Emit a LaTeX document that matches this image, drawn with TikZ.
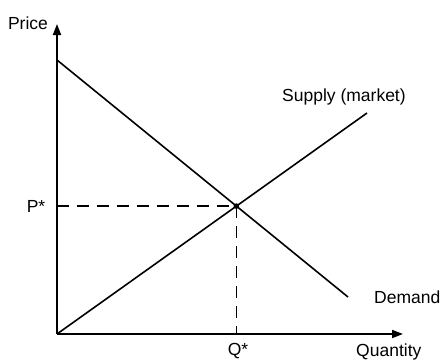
\documentclass[tikz,border=0pt]{standalone}
\usepackage{fontspec}
\setmainfont{Liberation Sans}
\usetikzlibrary{arrows.meta}
\begin{document}
\begin{tikzpicture}[x=1pt,y=1pt,
  axisline/.style={line width=1.9pt,-{Triangle[length=11pt,width=8pt]}},
  curve/.style={line width=1.6pt},
  guide/.style={line width=1.3pt,dash pattern=on 12pt off 8pt},
  lbl/.style={inner sep=0pt,font=\fontsize{17.5}{20}\selectfont}]
\useasboundingbox (0,0) rectangle (440,360);
\coordinate (O) at (57,26);
\coordinate (Ytop) at (57,336);
\coordinate (Xend) at (403,26);
\coordinate (D1) at (57,300);
\coordinate (D2) at (348,63);
\coordinate (S1) at (57,26);
\coordinate (S2) at (367,247);
\coordinate (E) at (intersection of D1--D2 and S1--S2);
\coordinate (Pax) at (O |- E);
\coordinate (Qax) at (E |- O);
\draw[axisline] (O) -- (Ytop);
\draw[axisline] (O) -- (Xend);
\draw[curve] (D1) -- (D2);
\draw[curve] (S1) -- (S2);
\draw[guide] (Pax) -- (E);
\draw[guide] (E) -- (Qax);
\fill (E) circle (2.8pt);
\node[lbl] (price) at (28,337) {Price};
\node[lbl] (pstar) at (36,154) {P*};
\node[lbl] (qstar) at (238,9) {Q*};
\node[lbl,anchor=west] (qty) at (356,8) {Quantity};
\node[lbl,anchor=west] (dem) at (374,63) {Demand};
\node[lbl,anchor=west] (sup) at (282,263) {Supply (market)};
\end{tikzpicture}
\end{document}
